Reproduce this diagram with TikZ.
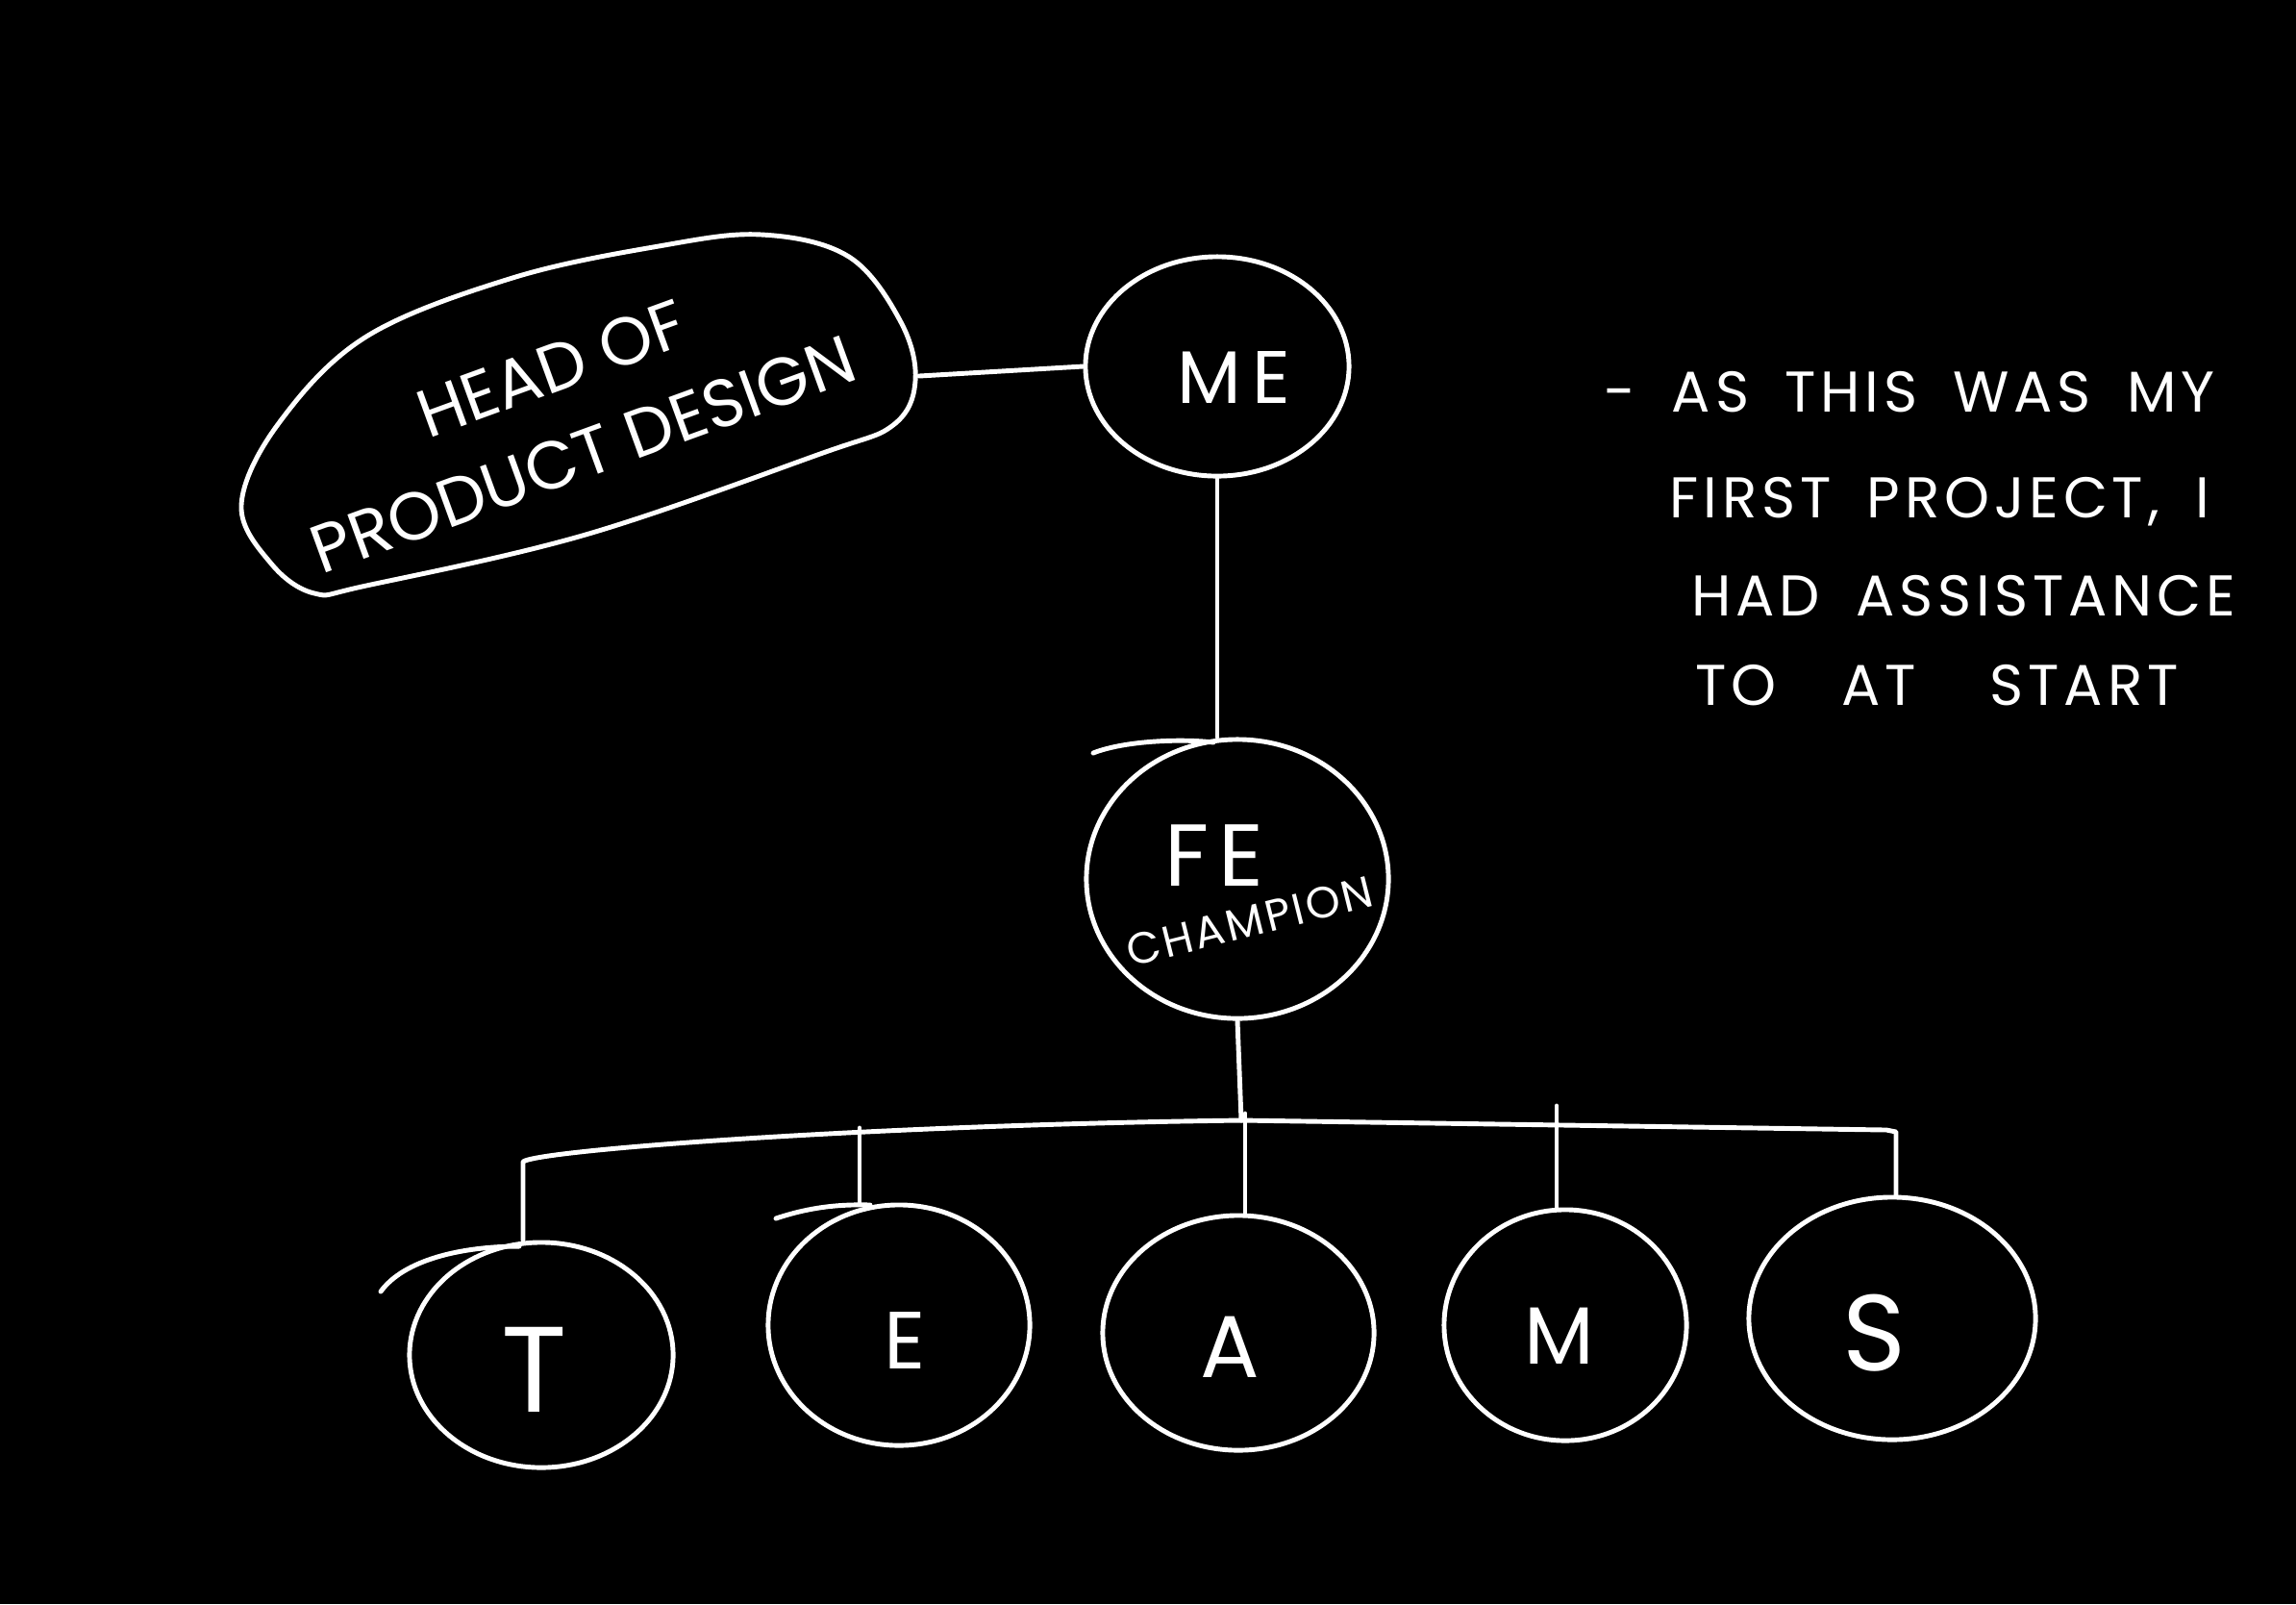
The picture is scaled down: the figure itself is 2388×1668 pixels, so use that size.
\documentclass[tikz,border=0pt]{standalone}
\usepackage{fontspec}
\setmainfont{Poppins}
\newfontfamily\notefont[LetterSpace=8,WordSpace=1.8]{Poppins}
\usetikzlibrary{shapes.geometric}
\begin{document}
\begin{tikzpicture}[x=0.01cm,y=-0.01cm,
  ink/.style={draw=white,line width=1.4pt,line cap=round,line join=round},
  bubble/.style={ink,ellipse,inner sep=0pt},
  txt/.style={text=white,inner sep=0pt},
  wire/.style={ink}]
\fill[black] (0,0) rectangle (2388,1668);
\useasboundingbox (0,0) rectangle (2388,1668);

% head of product design blob
\draw[ink] plot[smooth cycle,tension=0.6] coordinates {
  (251,525) (290,440) (381,350) (533,289) (685,256) (792,244) (883,267)
  (937,335) (952,396) (929,442) (853,472) (609,556) (381,609) (327,617) (282,586)};
\node[txt,rotate=20,align=center,font=\fontsize{20}{27}\selectfont] (head) at (590,428) {HEAD OF\\PRODUCT DESIGN};

% ME
\node[bubble,minimum width=2.74cm,minimum height=2.28cm] (me) at (1266,381) {};
\node[txt,font=\fontsize{22}{26}\selectfont\addfontfeature{LetterSpace=15}] (meT) at (1283,392) {ME};

% FE champion
\node[bubble,minimum width=3.14cm,minimum height=2.9cm] (fe) at (1287,914) {};
\node[txt,font=\fontsize{26}{30}\selectfont\addfontfeature{LetterSpace=10}] (feT) at (1263,890) {FE};
\node[txt,rotate=14,font=\fontsize{13}{16}\selectfont\addfontfeature{LetterSpace=6}] (chT) at (1300,958) {CHAMPION};
\draw[ink] (1137,783) .. controls (1170,770) and (1230,768) .. (1262,772);

% teams
\node[bubble,minimum width=2.74cm,minimum height=2.34cm] (t) at (563,1409) {};
\node[bubble,minimum width=2.72cm,minimum height=2.5cm] (e) at (935,1378) {};
\node[bubble,minimum width=2.82cm,minimum height=2.44cm] (a) at (1288,1386) {};
\node[bubble,minimum width=2.52cm,minimum height=2.4cm] (m) at (1628,1378) {};
\node[bubble,minimum width=2.98cm,minimum height=2.52cm] (s) at (1968,1371) {};
\draw[ink] (396,1343) .. controls (420,1310) and (480,1296) .. (540,1296);
\draw[ink] (807,1267) .. controls (840,1256) and (870,1252) .. (905,1253);
\node[txt,font=\fontsize{36}{40}\selectfont] (tT) at (556,1424) {T};
\node[txt,font=\fontsize{24}{28}\selectfont] (eT) at (941,1394) {E};
\node[txt,font=\fontsize{26}{30}\selectfont] (aT) at (1279,1401) {A};
\node[txt,font=\fontsize{24}{28}\selectfont] (mT) at (1622,1389) {M};
\node[txt,font=\fontsize{32}{36}\selectfont] (sT) at (1949,1386) {S};

% note
\begin{scope}[every node/.style={txt,anchor=base west,font=\notefont\fontsize{17}{20}\selectfont}]
\node (n1) at (1668,428) {- AS THIS WAS MY};
\node (n2) at (1736,538) {FIRST PROJECT, I};
\node (n3) at (1759,640) {HAD ASSISTANCE};
\node (n4) at (1763,733) {TO\hspace{0.3cm} AT\hspace{0.4cm} START};
\end{scope}

% connectors
\coordinate (headR) at (956,391);
\draw[wire] (headR) -- (me.west);
\draw[wire] (me.south) -- (me.south |- fe.north);
\coordinate (busL) at (544,1208);
\coordinate (busM) at (1291,1165);
\coordinate (busR) at (1972,1177);
\draw[wire] (fe.south) -- (busM);
\draw[wire] (t.north -| busL) -- (busL) .. controls (560,1196) and (900,1170) .. (busM) -- (1962,1175) -- (busR) -- (s.north -| busR);
\coordinate (eTop) at (894,1173);
\coordinate (aTop) at (1295,1158);
\coordinate (mTop) at (1619,1150);
\draw[wire] (eTop) -- (eTop |- e.north);
\draw[wire] (aTop) -- (aTop |- a.north);
\draw[wire] (mTop) -- (mTop |- m.north);
\end{tikzpicture}
\end{document}
